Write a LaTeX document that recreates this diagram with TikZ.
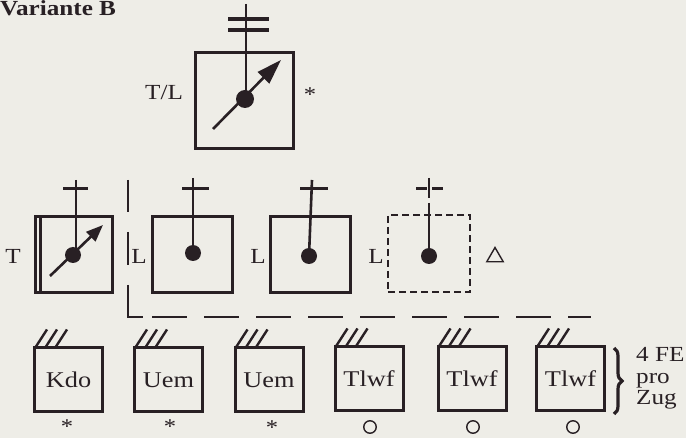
\documentclass[tikz,border=0pt]{standalone}
\usepackage{fontspec}
\setmainfont{Liberation Serif}[FakeStretch=1.17]
\usetikzlibrary{arrows.meta,shapes.geometric,decorations.pathreplacing}
\definecolor{ink}{RGB}{40,32,36}
\definecolor{paper}{RGB}{238,237,231}
\begin{document}
\begin{tikzpicture}[x=1pt,y=-1pt,
  sqbox/.style={draw=ink, line width=3pt, inner sep=0pt, rectangle},
  dbox/.style={sqbox, line width=2.7pt, dash pattern=on 7pt off 4pt},
  fbox/.style={sqbox, minimum width=68pt, minimum height=64pt, text=ink, font=\fontsize{22.5}{24}\selectfont},
  wire/.style={draw=ink, line width=2.6pt},
  hatch/.style={draw=ink, line width=2.4pt},
  dot/.style={circle, fill=ink, inner sep=0pt},
  lbl/.style={text=ink, inner sep=0pt, font=\fontsize{21.5}{22}\selectfont},
  ast/.style={text=ink, inner sep=0pt, font=\fontsize{21}{22}\selectfont},
  ring/.style={circle, draw=ink, line width=1.4pt, inner sep=0pt, minimum size=12.5pt},
  tri/.style={regular polygon, regular polygon sides=3, draw=ink, line width=1.4pt, inner sep=0pt, minimum size=19pt},
  divider/.style={draw=ink, line width=2.9pt}
]
\fill[paper] (0,0) rectangle (686,438);
\useasboundingbox (0,0) rectangle (686,438);

% title
\node[text=ink, inner sep=0pt, anchor=base west, font=\fontsize{21.5}{22}\selectfont\bfseries] (title) at (0,16) {Variante B};

% ---- top T/L unit
\node[sqbox, minimum width=98pt, minimum height=96pt] (tl) at (244,101) {};
\node[dot, minimum size=18pt] (tldot) at (245,99) {};
\coordinate (tltop) at (246,4);
\draw[wire] (tltop) -- (tltop |- tldot.center);
\coordinate (tlaL) at (228,19); \coordinate (tlaR) at (269,19);
\coordinate (tlbL) at (228,30); \coordinate (tlbR) at (269,30);
\draw[wire, line width=3.2pt] (tlaL) -- (tlaR);
\draw[wire, line width=3.2pt] (tlbL) -- (tlbR);
\coordinate (tlas) at (213,129); \coordinate (tlae) at (281,60);
\draw[wire, -{Triangle[length=25pt,width=16pt]}] (tlas) -- (tlae);
\node[lbl] (tllbl) at (164,93) {T/L};
\node[ast] (tlast) at (310,95) {*};

% ---- T unit
\node[sqbox, minimum width=77pt, minimum height=76pt] (tb) at (73.5,255) {};
\draw[wire, line width=3pt] ([xshift=7pt]tb.north west) -- ([xshift=7pt]tb.south west);
\node[dot, minimum size=16pt] (tdot) at (73,255) {};
\coordinate (ttop) at (76,180);
\draw[wire] (ttop) -- (ttop |- tdot.center);
\coordinate (tbarL) at (63,189); \coordinate (tbarR) at (88,189);
\draw[wire, line width=3pt] (tbarL) -- (tbarR);
\coordinate (tas) at (50,276); \coordinate (tae) at (103,225);
\draw[wire, -{Triangle[length=17pt,width=13pt]}] (tas) -- (tae);
\node[lbl] (tlbl) at (13,256) {T};

% ---- L unit 1
\node[sqbox, minimum width=80pt, minimum height=76pt] (l1) at (192,255) {};
\node[dot, minimum size=16pt] (l1dot) at (193,253) {};
\coordinate (l1top) at (193,178);
\draw[wire] (l1top) -- (l1dot.center);
\coordinate (l1barL) at (182,189); \coordinate (l1barR) at (209,189);
\draw[wire, line width=3pt] (l1barL) -- (l1barR);
\node[lbl] (l1lbl) at (139,256) {L};

% ---- L unit 2
\node[sqbox, minimum width=80pt, minimum height=76pt] (l2) at (310,255) {};
\node[dot, minimum size=16pt] (l2dot) at (309,256) {};
\coordinate (l2top) at (312,180);
\draw[wire] (l2top) -- (l2dot.center);
\coordinate (l2barL) at (300,189); \coordinate (l2barR) at (328,189);
\draw[wire, line width=3pt] (l2barL) -- (l2barR);
\node[lbl] (l2lbl) at (258,256) {L};

% ---- L unit 3 (dashed)
\node[dbox, minimum width=82pt, minimum height=77pt] (l3) at (429,253.5) {};
\node[dot, minimum size=16pt] (l3dot) at (429,256) {};
\coordinate (l3top) at (429,178); \coordinate (l3gapA) at (429,198);
\coordinate (l3gapB) at (429,203);
\draw[wire] (l3top) -- (l3gapA);
\draw[wire] (l3gapB) -- (l3dot.center);
\coordinate (l3barA) at (416,189); \coordinate (l3barB) at (427,189);
\coordinate (l3barC) at (432,189); \coordinate (l3barD) at (443,189);
\draw[wire, line width=3pt] (l3barA) -- (l3barB);
\draw[wire, line width=3pt] (l3barC) -- (l3barD);
\node[lbl] (l3lbl) at (376,256) {L};
\node[tri] (l3tri) at (495,257) {};

% ---- dashed divider
\draw[divider] (128,180) -- (128,212);
\draw[divider] (128,232) -- (128,265);
\draw[divider] (128,285) -- (128,317) -- (143,317);
\draw[divider, dash pattern=on 35pt off 17pt] (152,317) -- (591,317);

% ---- bottom row
\node[fbox] (kdo) at (68.5,380) {Kdo};
\node[fbox] (uem1) at (168.5,380) {Uem};
\node[fbox] (uem2) at (269,380) {Uem};
\node[fbox] (tlwf1) at (369,379) {Tlwf};
\node[fbox] (tlwf2) at (472,379) {Tlwf};
\node[fbox] (tlwf3) at (570.5,379) {Tlwf};
\foreach \b in {kdo,uem1,uem2,tlwf1,tlwf2,tlwf3}{
  \foreach \k in {3,13,23}{
    \draw[hatch] ([xshift=\k pt]\b.north west) -- ++(11,-17);
  }
}
\node[ast] (a1) at (67,427) {*};
\node[ast] (a2) at (170,427) {*};
\node[ast] (a3) at (272,428) {*};
\node[ring] (r1) at (370,427) {};
\node[ring] (r2) at (473,427) {};
\node[ring] (r3) at (573,427) {};

% brace and note
\coordinate (brt) at (614,348); \coordinate (brb) at (614,414);
\draw[draw=ink, line width=3.2pt, decorate, decoration={brace, amplitude=8pt}] (brt) -- (brb);
\node[lbl, anchor=base west] (fe1) at (636,362) {4 FE};
\node[lbl, anchor=base west] (fe2) at (636,384) {pro};
\node[lbl, anchor=base west] (fe3) at (636,405) {Zug};
\end{tikzpicture}
\end{document}
